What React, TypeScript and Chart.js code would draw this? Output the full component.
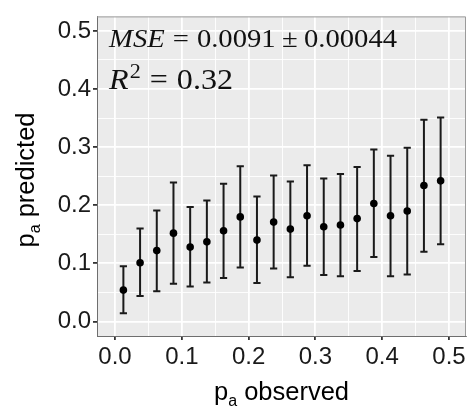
import React, { useEffect, useRef } from 'react';
import { Chart, registerables } from 'chart.js';

Chart.register(...registerables);

const xObserved = [0.0125, 0.0375, 0.0625, 0.0875, 0.1125, 0.1375, 0.1625, 0.1875, 0.2125, 0.2375,
  0.2625, 0.2875, 0.3125, 0.3375, 0.3625, 0.3875, 0.4125, 0.4375, 0.4625, 0.4875];
const yPredicted = [0.054, 0.101, 0.122, 0.152, 0.128, 0.137, 0.156, 0.180, 0.140, 0.171,
  0.159, 0.182, 0.163, 0.166, 0.177, 0.203, 0.182, 0.190, 0.234, 0.242];
const yUpper = [0.095, 0.160, 0.191, 0.239, 0.197, 0.208, 0.237, 0.267, 0.215, 0.251,
  0.241, 0.269, 0.246, 0.254, 0.266, 0.296, 0.285, 0.299, 0.347, 0.351];
const yLower = [0.014, 0.044, 0.052, 0.065, 0.060, 0.067, 0.075, 0.093, 0.066, 0.091,
  0.076, 0.096, 0.080, 0.078, 0.087, 0.111, 0.078, 0.081, 0.120, 0.133];

const majorTicks = [0, 0.1, 0.2, 0.3, 0.4, 0.5];
const minorTicks = [0.05, 0.15, 0.25, 0.35, 0.45];
const tickLabels = ['0.0', '0.1', '0.2', '0.3', '0.4', '0.5'];

const xRange = [-0.027, 0.5255];
const yRange = [-0.025, 0.525];

const mseText = ['MSE', '0.0091', '0.00044'];
const r2Text = ['R', '2', '0.32'];
const annotationAnchors = [[-0.009, 0.472], [-0.009, 0.4003]];

const SANS = '"Liberation Sans", Arial, Helvetica, sans-serif';
const SERIF = '"Liberation Serif", "Times New Roman", serif';

const isMajor = (v: number) => Math.abs(v * 10 - Math.round(v * 10)) < 1e-6;
const labelFor = (v: number) => {
  const i = majorTicks.findIndex((m) => Math.abs(m - v) < 1e-6);
  return i >= 0 ? tickLabels[i] : '';
};

type Piece = { t: string; font: string; dy?: number; gap?: number };

function measurePieces(ctx: CanvasRenderingContext2D, pieces: Piece[]) {
  let w = 0;
  pieces.forEach((p) => {
    ctx.font = p.font;
    w += ctx.measureText(p.t).width + (p.gap || 0);
  });
  return w;
}

function drawPieces(ctx: CanvasRenderingContext2D, pieces: Piece[], x: number, y: number, targetW?: number) {
  const w = measurePieces(ctx, pieces);
  const sx = targetW ? targetW / w : 1;
  ctx.save();
  ctx.translate(x, y);
  ctx.scale(sx, 1);
  let cx = 0;
  pieces.forEach((p) => {
    ctx.font = p.font;
    ctx.fillText(p.t, cx, p.dy || 0);
    cx += ctx.measureText(p.t).width + (p.gap || 0);
  });
  ctx.restore();
  return w;
}

const decorPlugin = {
  id: 'decor',
  beforeDraw(chart: any) {
    const { ctx, chartArea: a } = chart;
    ctx.save();
    ctx.fillStyle = '#EBEBEB';
    ctx.fillRect(a.left, a.top, a.right - a.left, a.bottom - a.top);
    ctx.restore();
  },
  beforeDatasetsDraw(chart: any) {
    const { ctx } = chart;
    const xs = chart.scales.x;
    const ys = chart.scales.y;
    ctx.save();
    ctx.strokeStyle = '#1a1a1a';
    ctx.lineWidth = 2;
    xObserved.forEach((xv, i) => {
      const px = xs.getPixelForValue(xv);
      const pLo = ys.getPixelForValue(yLower[i]);
      const pHi = ys.getPixelForValue(yUpper[i]);
      ctx.beginPath();
      ctx.moveTo(px, pLo);
      ctx.lineTo(px, pHi);
      ctx.moveTo(px - 3.6, pLo);
      ctx.lineTo(px + 3.6, pLo);
      ctx.moveTo(px - 3.6, pHi);
      ctx.lineTo(px + 3.6, pHi);
      ctx.stroke();
    });
    ctx.restore();
  },
  afterDraw(chart: any) {
    const { ctx, chartArea: a } = chart;
    const xs = chart.scales.x;
    const ys = chart.scales.y;
    ctx.save();
    ctx.strokeStyle = '#9a9a9a';
    ctx.lineWidth = 1;
    ctx.beginPath();
    ctx.moveTo(a.left, a.top + 0.5);
    ctx.lineTo(a.right - 0.5, a.top + 0.5);
    ctx.lineTo(a.right - 0.5, a.bottom);
    ctx.stroke();

    ctx.fillStyle = '#111';
    ctx.textBaseline = 'alphabetic';
    ctx.textAlign = 'left';

    const fs1 = 25;
    const mse: Piece[] = [
      { t: mseText[0], font: `italic ${fs1}px ${SERIF}`, gap: fs1 * 0.28 },
      { t: '=', font: `${fs1}px ${SERIF}`, gap: fs1 * 0.28 },
      { t: mseText[1], font: `${fs1}px ${SERIF}`, gap: fs1 * 0.22 },
      { t: '\u00B1', font: `${fs1}px ${SERIF}`, gap: fs1 * 0.22 },
      { t: mseText[2], font: `${fs1}px ${SERIF}` },
    ];
    drawPieces(ctx, mse, xs.getPixelForValue(annotationAnchors[0][0]), ys.getPixelForValue(annotationAnchors[0][1]), 288);

    const fs2 = 29;
    const r2: Piece[] = [
      { t: r2Text[0], font: `italic ${fs2}px ${SERIF}`, gap: 1 },
      { t: r2Text[1], font: `20px ${SERIF}`, dy: -11, gap: fs2 * 0.28 },
      { t: '=', font: `${fs2}px ${SERIF}`, gap: fs2 * 0.28 },
      { t: r2Text[2], font: `${fs2}px ${SERIF}` },
    ];
    drawPieces(ctx, r2, xs.getPixelForValue(annotationAnchors[1][0]), ys.getPixelForValue(annotationAnchors[1][1]), 124);

    ctx.fillStyle = '#000';
    const tf = `25.5px ${SANS}`;
    const sf = `16px ${SANS}`;
    const xt: Piece[] = [
      { t: 'p', font: tf },
      { t: 'a', font: sf, dy: 6 },
      { t: ' observed', font: tf },
    ];
    const xw = measurePieces(ctx, xt);
    drawPieces(ctx, xt, (a.left + a.right) / 2 - xw / 2, a.bottom + 64);

    const yt: Piece[] = [
      { t: 'p', font: tf },
      { t: 'a', font: sf, dy: 6 },
      { t: ' predicted', font: tf },
    ];
    const yw = measurePieces(ctx, yt);
    ctx.save();
    ctx.translate(34, 180);
    ctx.rotate(-Math.PI / 2);
    drawPieces(ctx, yt, -yw / 2, 0);
    ctx.restore();

    ctx.restore();
  },
};

export default function App() {
  const ref = useRef<HTMLCanvasElement | null>(null);
  useEffect(() => {
    if (!ref.current) return;
    const allTicks = [...majorTicks, ...minorTicks].sort((p, q) => p - q);
    const gridCommon = {
      color: '#FFFFFF',
      lineWidth: (c: any) => (c.tick && isMajor(c.tick.value) ? 1.8 : 0.9),
      tickColor: (c: any) => (c.tick && isMajor(c.tick.value) ? '#333333' : 'rgba(0,0,0,0)'),
      tickLength: 4,
      drawOnChartArea: true,
    };
    const chart = new Chart(ref.current, {
      type: 'scatter',
      data: {
        datasets: [
          {
            data: xObserved.map((x, i) => ({ x, y: yPredicted[i] })),
            backgroundColor: '#000000',
            borderWidth: 0,
            pointRadius: 3.8,
            pointHoverRadius: 3.8,
          },
        ],
      },
      options: {
        animation: false,
        responsive: false,
        events: [],
        layout: { padding: { left: 0, top: 5, right: 5, bottom: 0 } },
        plugins: { legend: { display: false }, tooltip: { enabled: false } },
        scales: {
          x: {
            type: 'linear',
            min: xRange[0],
            max: xRange[1],
            afterBuildTicks: (s: any) => {
              s.ticks = allTicks.map((v) => ({ value: v }));
            },
            afterFit: (s: any) => {
              s.height = 77;
            },
            ticks: {
              autoSkip: false,
              maxRotation: 0,
              padding: 3,
              color: '#1a1a1a',
              font: { family: SANS, size: 24 },
              callback: (v: any) => labelFor(Number(v)),
            },
            grid: gridCommon as any,
            border: { display: true, color: '#6e6e6e', width: 1 },
          },
          y: {
            type: 'linear',
            min: yRange[0],
            max: yRange[1],
            afterBuildTicks: (s: any) => {
              s.ticks = allTicks.map((v) => ({ value: v }));
            },
            afterFit: (s: any) => {
              s.width = 97;
            },
            ticks: {
              autoSkip: false,
              padding: 2,
              color: '#1a1a1a',
              font: { family: SANS, size: 24 },
              callback: (v: any) => labelFor(Number(v)),
            },
            grid: gridCommon as any,
            border: { display: true, color: '#6e6e6e', width: 1 },
          },
        },
      },
      plugins: [decorPlugin],
    });
    return () => chart.destroy();
  }, []);
  return (
    <div style={{ position: 'fixed', left: 0, top: 0, width: 471, height: 413, background: '#fff' }}>
      <canvas ref={ref} width={471} height={413} style={{ display: 'block' }} />
    </div>
  );
}
